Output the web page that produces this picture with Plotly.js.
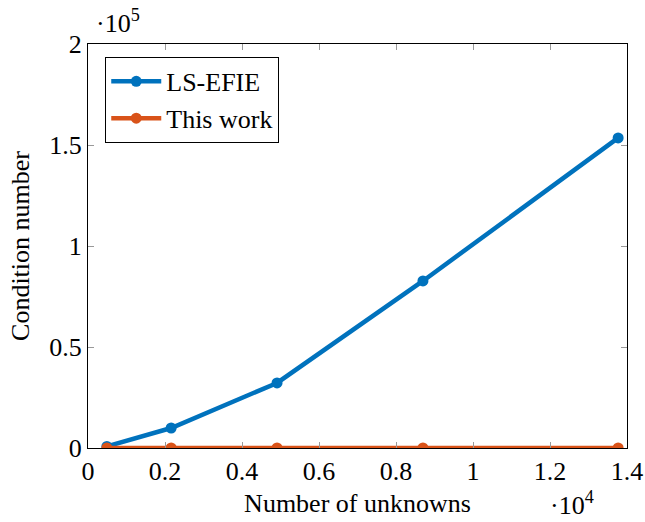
<!DOCTYPE html>
<html><head><meta charset="utf-8">
<script src="https://cdn.plot.ly/plotly-3.0.1.min.js"></script>
<style>body{margin:0;background:#fff}#c{width:645px;height:522px}</style>
</head><body><div id="c"></div>
<script>
const unknowns = [490, 2160, 4910, 8700, 13770];
const lsEfie = [800, 9900, 32200, 82700, 153500];
const thisWork = [30, 35, 38, 40, 42];
const seriesNames = ['LS-EFIE', 'This work'];
const xTickVals = [0, 2000, 4000, 6000, 8000, 10000, 12000, 14000];
const xTickText = ['0', '0.2', '0.4', '0.6', '0.8', '1', '1.2', '1.4'];
const yTickVals = [0, 50000, 100000, 150000, 200000];
const yTickText = ['0', '0.5', '1', '1.5', '2'];

const font = {family: 'Liberation Serif', size: 26, color: '#000'};
const traces = [
  {x: unknowns, y: lsEfie, name: seriesNames[0], mode: 'lines+markers',
   line: {color: '#0072BD', width: 4.5}, marker: {color: '#0072BD', size: 11}},
  {x: unknowns, y: thisWork, name: seriesNames[1], mode: 'lines+markers',
   line: {color: '#D95319', width: 4.5}, marker: {color: '#D95319', size: 11}}
];
const axisCommon = {showgrid: false, zeroline: false, showline: true, linecolor: '#000', linewidth: 1,
  mirror: 'ticks', ticks: 'inside', ticklen: 6, tickcolor: '#999', tickwidth: 1, tickfont: font};
const layout = {
  width: 645, height: 522, paper_bgcolor: '#fff', plot_bgcolor: '#fff',
  margin: {l: 88, r: 18, t: 44, b: 74},
  font: font, showlegend: true,
  xaxis: Object.assign({}, axisCommon, {range: [0, 14000], tickmode: 'array', tickvals: xTickVals, ticktext: xTickText,
    title: {text: 'Number of unknowns', font: font, standoff: 8}}),
  yaxis: Object.assign({}, axisCommon, {range: [0, 200000], tickmode: 'array', tickvals: yTickVals, ticktext: yTickText,
    title: {text: 'Condition number', font: font, standoff: 12}}),
  legend: {x: 0.032, y: 0.968, xanchor: 'left', yanchor: 'top', bgcolor: '#fff', bordercolor: '#000', borderwidth: 1,
    font: font, itemwidth: 50, tracegroupgap: 0},
  annotations: [
    {xref: 'paper', yref: 'paper', x: 0.0, y: 1.0, xanchor: 'left', yanchor: 'bottom', xshift: 6, yshift: 4, showarrow: false,
     text: '·10<sup>5</sup>', font: font},
    {xref: 'paper', yref: 'paper', x: 0.853, y: 0, xanchor: 'left', yanchor: 'top', yshift: -37, showarrow: false,
     text: '·10<sup>4</sup>', font: font}
  ]
};
Plotly.newPlot('c', traces, layout, {displayModeBar: false, staticPlot: true});
</script></body></html>
